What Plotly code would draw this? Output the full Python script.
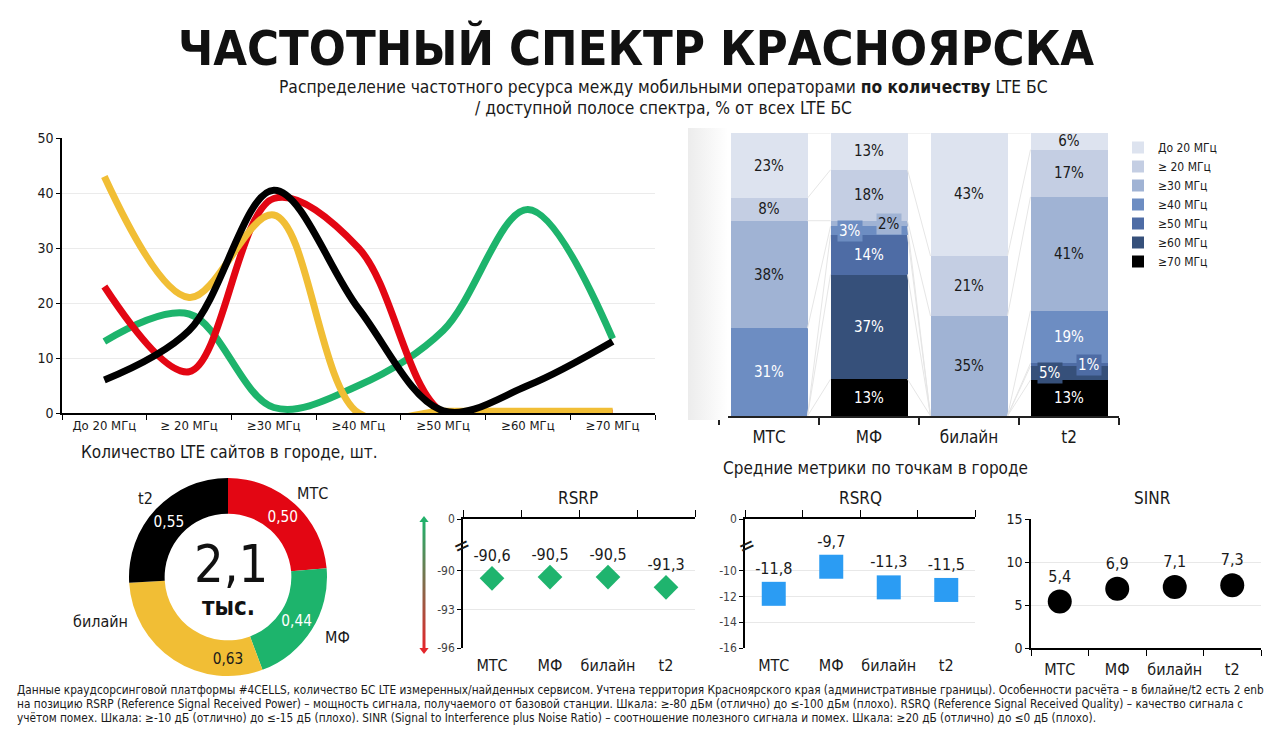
"""
Частотный спектр Красноярска — инфографика в Plotly.
"""

import numpy as np
import plotly.graph_objects as go

W, H = 1280, 732
PAGE_PAD = 8  # default body margin of the html page
FONT = "DejaVu Sans Condensed, Liberation Sans Narrow, sans-serif"
DARK = "#1a1a1a"


def px(x):
    # screen pixel -> paper x
    return (x - PAGE_PAD) / W


def py(y):
    # screen pixel -> paper y
    return 1 - (y - PAGE_PAD) / H


# Data

bands = ["До 20 МГц", "≥ 20 МГц", "≥30 МГц", "≥40 МГц", "≥50 МГц", "≥60 МГц", "≥70 МГц"]
band_colors = ["#dde3ef", "#c4cee3", "#a0b3d4", "#6d8dc2", "#4e6ca5", "#36507a", "#000000"]
operators = ["МТС", "МФ", "билайн", "t2"]
op_colors = {"МТС": "#e30613", "МФ": "#1db46c", "билайн": "#f1be35", "t2": "#000000"}

# количество LTE сайтов по полосе, шт.
sites_mts = [23, 7.5, 39, 30, 0, 0, 0]
sites_mf = [13, 18, 1, 5, 15, 37, 13.5]
sites_beeline = [43, 21, 36, 0, 0.3, 0.3, 0.3]
sites_t2 = [6, 15, 40.5, 19, 0.4, 5, 13]

# доля полосы, % от всех LTE БС (МТС, МФ, билайн, t2)
share_do20 = [23, 13, 43, 6]
share_20 = [8, 18, 21, 17]
share_30 = [38, 2, 35, 41]
share_40 = [31, 3, 0, 19]
share_50 = [0, 14, 0, 1]
share_60 = [0, 37, 0, 5]
share_70 = [0, 13, 0, 13]

donut_values = [0.50, 0.44, 0.63, 0.55]
donut_total = "2,1"

rsrp = [-90.6, -90.5, -90.5, -91.3]
rsrq = [-11.8, -9.7, -11.3, -11.5]
sinr = [5.4, 6.9, 7.1, 7.3]

fig = go.Figure()

# Line chart
for name, vals in [("МФ", sites_mf), ("МТС", sites_mts), ("билайн", sites_beeline), ("t2", sites_t2)]:
    fig.add_trace(go.Scatter(
        x=bands, y=vals, mode="lines", name=name, showlegend=False,
        line=dict(color=op_colors[name], width=7, shape="spline", smoothing=1),
        xaxis="x", yaxis="y",
    ))

# Stacked bars
shares = [share_do20, share_20, share_30, share_40, share_50, share_60, share_70]
xpos = np.arange(len(operators))
light_bands = {"До 20 МГц", "≥ 20 МГц", "≥30 МГц"}
small_shift = {"≥30 МГц": 20, "≥40 МГц": -19, "≥50 МГц": 20, "≥60 МГц": -19}

share_arr = np.array(shares, dtype=float)
norm = share_arr / share_arr.sum(axis=0) * 100
# top edge of each band, stacking from the bottom (≥70 first)
tops = np.cumsum(norm[::-1], axis=0)[::-1]
centers = tops - norm / 2

annotations = []

# series lines between bars
for b in range(len(bands)):
    for i in range(len(operators) - 1):
        fig.add_trace(go.Scatter(
            x=[xpos[i] + 0.385, xpos[i + 1] - 0.385],
            y=[tops[b][i], tops[b][i + 1]],
            mode="lines", line=dict(color="#e6e6e6", width=1),
            showlegend=False, hoverinfo="skip", xaxis="x2", yaxis="y2",
        ))

for b in reversed(range(len(bands))):
    vals = shares[b]
    txt_color = DARK if bands[b] in light_bands else "white"
    texts = [f"{v}%" if v >= 6 else "" for v in vals]
    fig.add_trace(go.Bar(
        x=xpos, y=vals, name=bands[b], marker=dict(color=band_colors[b], line=dict(width=0)),
        width=0.77, text=texts, textposition="inside", insidetextanchor="middle",
        textfont=dict(size=15, color=txt_color, family=FONT), constraintext="none",
        xaxis="x2", yaxis="y2", hoverinfo="skip",
    ))
    for i, v in enumerate(vals):
        if 0 < v < 6:
            annotations.append(dict(
                x=xpos[i], y=centers[b][i], xref="x2", yref="y2",
                text=f"{v}%", showarrow=False, xshift=small_shift.get(bands[b], 0),
                font=dict(size=15, color=txt_color, family=FONT),
                bgcolor=band_colors[b], borderpad=1,
            ))

# Donut
fig.add_trace(go.Pie(
    values=donut_values, labels=operators, hole=0.64, sort=False,
    direction="clockwise", rotation=0,
    marker=dict(colors=[op_colors[o] for o in operators], line=dict(width=0)),
    texttemplate="%{value:.2f}", textposition="inside", insidetextorientation="horizontal",
    textfont=dict(size=16, family=FONT, color=["white", "white", DARK, "white"]),
    domain=dict(x=[px(129), px(327)], y=[py(676), py(478)]),
    showlegend=False, hoverinfo="skip",
))

# Metrics
metric_specs = [
    (rsrp, "x3", "y3", dict(symbol="diamond", size=19, color="#1fb46e")),
    (rsrq, "x4", "y4", dict(symbol="square", size=24, color="#2b9cf3")),
    (sinr, "x5", "y5", dict(symbol="circle", size=24, color="#000000")),
]
for vals, xa, ya, marker in metric_specs:
    fig.add_trace(go.Scatter(
        x=xpos, y=vals, mode="markers+text", texttemplate="%{y:.1f}", textposition="top center",
        marker=marker, textfont=dict(size=16, color=DARK, family=FONT), showlegend=False,
        xaxis=xa, yaxis=ya, cliponaxis=False, hoverinfo="skip",
    ))
# invisible anchors for the top axis lines
for xa, ya in [("x6", "y3"), ("x7", "y4")]:
    fig.add_trace(go.Scatter(x=[0], y=[0], mode="markers", marker=dict(opacity=0),
                             showlegend=False, hoverinfo="skip", xaxis=xa, yaxis=ya))

# decorations in screen-pixel space: bar-chart shadow and RSRP quality arrow
fig.add_trace(go.Scatter(
    x=[688, 728, 728, 688, 688], y=[128, 128, 420, 420, 128], fill="toself", mode="lines",
    line=dict(width=0), fillgradient=dict(type="horizontal", colorscale=[[0, "#ececec"], [1, "#ffffff"]]),
    showlegend=False, hoverinfo="skip", xaxis="x9", yaxis="y9",
))
fig.add_trace(go.Scatter(
    x=[422.5, 425.5, 425.5, 422.5, 422.5], y=[522, 522, 648, 648, 522], fill="toself", mode="lines",
    line=dict(width=0), fillgradient=dict(type="vertical", colorscale=[[0, "#e3262b"], [1, "#22b06a"]]),
    showlegend=False, hoverinfo="skip", xaxis="x9", yaxis="y9",
))
fig.add_trace(go.Scatter(
    x=[424, 424], y=[520, 650], mode="markers",
    marker=dict(symbol=["triangle-up", "triangle-down"], size=8, color=["#22b06a", "#e3262b"]),
    showlegend=False, hoverinfo="skip", xaxis="x9", yaxis="y9",
))


# Text
def note(text, x, y, size, xanchor="center", color=DARK, **kw):
    annotations.append(dict(
        text=text, x=px(x), y=py(y), xref="paper", yref="paper", showarrow=False,
        xanchor=xanchor, yanchor="middle", font=dict(size=size, color=color, family=FONT), **kw,
    ))


note("<b>ЧАСТОТНЫЙ СПЕКТР КРАСНОЯРСКА</b>", 636, 48, 48.5, color="#111111")
note("Распределение частотного ресурса между мобильными операторами <b>по количеству</b> LTE БС",
     663, 87, 17.3)
note("/ доступной полосе спектра, % от всех LTE БС", 663, 108, 17.3)
note("Количество LTE сайтов в городе, шт.", 79, 452, 17, xanchor="left")
note("Средние метрики по точкам в городе", 875, 468, 17)
note("RSRP", 578, 498, 17)
note("RSRQ", 860, 498, 17)
note("SINR", 1152, 498, 17)

note(donut_total, 231, 564, 52, color="#111111")
note("<b>тыс.</b>", 228, 607, 24, color="#111111")
note("МТС", 312, 494, 16)
note("МФ", 337, 637, 16)
note("билайн", 100, 621, 16)
note("t2", 145, 498, 16)

# axis break marks
note("=", 461, 545, 22, textangle=-25)
note("=", 746, 545, 22, textangle=-25)

footer = [
    "Данные краудсорсинговой платформы #4CELLS, количество БС LTE измеренных/найденных сервисом. "
    "Учтена территория Красноярского края (административные границы). Особенности расчёта – в билайне/t2 есть 2 enb",
    "на позицию RSRP (Reference Signal Received Power) – мощность сигнала, получаемого от базовой станции. "
    "Шкала: ≥-80 дБм (отлично) до ≤-100 дБм (плохо). RSRQ (Reference Signal Received Quality) – качество сигнала с",
    "учётом помех. Шкала: ≥-10 дБ (отлично) до ≤-15 дБ (плохо). SINR (Signal to Interference plus Noise Ratio) – "
    "соотношение полезного сигнала и помех. Шкала: ≥20 дБ (отлично) до ≤0 дБ (плохо).",
]
for k, line in enumerate(footer):
    note(line, 15, 690 + 14 * k, 11.75, xanchor="left")

# Layout
axis_font = dict(family=FONT, color=DARK)
cat_axis = dict(range=[-0.5, 3.5], tickvals=list(xpos), ticktext=operators, ticks="",
                showgrid=False, zeroline=False, automargin=False, tickfont=dict(size=16, **axis_font))
top_axis = dict(range=[-0.5, 3.5], side="top", tickvals=[-0.5, 0.5, 1.5, 2.5, 3.5], ticks="outside",
                ticklen=7, tickcolor="black", showticklabels=False, showline=True, linecolor="black",
                linewidth=1.5, showgrid=False, zeroline=False, automargin=False)
metric_y = dict(showgrid=True, gridcolor="#e8e8e8", showline=True, linecolor="black", linewidth=1.5,
                ticks="outside", ticklen=4, tickcolor="black", zeroline=False, automargin=False,
                tickfont=dict(size=12, family=FONT, color="#444444"))

fig.update_layout(
    width=W, height=H, margin=dict(l=0, r=0, t=0, b=0, autoexpand=False),
    paper_bgcolor="white", plot_bgcolor="rgba(0,0,0,0)",
    separators=", ", font=dict(family=FONT, color=DARK),
    barmode="stack", barnorm="percent",
    uniformtext=dict(minsize=15, mode="show"),
    legend=dict(x=px(1118), y=py(133), xanchor="left", yanchor="top", traceorder="reversed",
                font=dict(size=12, family=FONT, color=DARK), tracegroupgap=0, bgcolor="rgba(0,0,0,0)"),
    xaxis=dict(domain=[px(62), px(655)], anchor="y", type="category", tickson="boundaries",
               ticks="outside", ticklen=5, tickcolor="black", showline=True, linecolor="black",
               linewidth=1.5, range=[-0.5, 6.5], showgrid=False, automargin=False,
               tickfont=dict(size=13, **axis_font)),
    yaxis=dict(domain=[py(413), py(138)], anchor="x", range=[0, 50], dtick=10, showgrid=True,
               gridcolor="#ebebeb", showline=True, linecolor="black", linewidth=1.5, ticks="outside",
               ticklen=4, tickcolor="black", zeroline=False, automargin=False,
               tickfont=dict(size=14, **axis_font)),
    xaxis2=dict(domain=[px(719), px(1119)], anchor="y2", range=[-0.5, 3.5], tickvals=list(xpos),
                ticktext=operators, ticks="", showline=True, linecolor="#222222", linewidth=2,
                minor=dict(tickvals=[-0.5, 0.5, 1.5, 2.5, 3.5], ticks="outside", ticklen=7,
                           tickcolor="#222222", tickwidth=2),
                showgrid=False, zeroline=False, ticklabelstandoff=5, automargin=False,
                tickfont=dict(size=17, **axis_font)),
    yaxis2=dict(domain=[py(416), py(133)], anchor="x2", range=[0, 100], visible=False),
    xaxis3=dict(domain=[px(463), px(695)], anchor="y3", ticklabelstandoff=6, **cat_axis),
    yaxis3=dict(domain=[py(648), py(519)], anchor="x3", range=[-96, -86],
                tickvals=[-96, -93, -90, -86], ticktext=["-96", "-93", "-90", "0"], **metric_y),
    xaxis6=dict(overlaying="x3", anchor="y3", **top_axis),
    xaxis4=dict(domain=[px(745), px(975)], anchor="y4", ticklabelstandoff=6, **cat_axis),
    yaxis4=dict(domain=[py(648), py(519)], anchor="x4", range=[-16, -6],
                tickvals=[-16, -14, -12, -10, -6], ticktext=["-16", "-14", "-12", "-10", "0"], **metric_y),
    xaxis7=dict(overlaying="x4", anchor="y4", **top_axis),
    xaxis5=dict(domain=[px(1031), px(1261)], anchor="y5", showline=True, linecolor="black", linewidth=1.5,
                minor=dict(tickvals=[-0.5, 0.5, 1.5, 2.5, 3.5], ticks="outside", ticklen=6,
                           tickcolor="black"),
                ticklabelstandoff=6, **cat_axis),
    yaxis5=dict(domain=[py(648), py(519)], anchor="x5", range=[0, 15], dtick=5,
                **{**metric_y, "tickfont": dict(size=14, family=FONT, color=DARK)}),
    xaxis9=dict(domain=[0, 1], anchor="y9", range=[PAGE_PAD, W + PAGE_PAD], visible=False, fixedrange=True),
    yaxis9=dict(domain=[0, 1], anchor="x9", range=[H + PAGE_PAD, PAGE_PAD], visible=False, fixedrange=True),
    annotations=annotations,
)

fig.write_html("out.html")
